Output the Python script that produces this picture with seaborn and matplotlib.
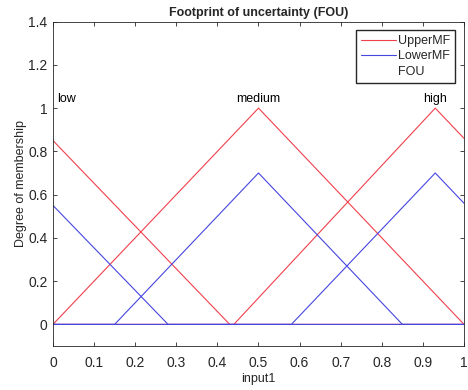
import numpy as np
import matplotlib
matplotlib.use("Agg")
import matplotlib.pyplot as plt
from matplotlib.lines import Line2D
from matplotlib.patches import Patch
import seaborn as sns

# Breakpoints of the upper membership functions
upper_low_x = [0, 0.43, 1]
upper_low_y = [0.85, 0, 0]
upper_med_x = [0, 0.5, 1]
upper_med_y = [0, 1, 0]
upper_high_x = [0, 0.44, 0.93, 1]
upper_high_y = [0, 0, 1, 0.86]

# Breakpoints of the lower membership functions
lower_low_x = [0, 0.28, 1]
lower_low_y = [0.55, 0, 0]
lower_med_x = [0, 0.15, 0.5, 0.85, 1]
lower_med_y = [0, 0, 0.7, 0, 0]
lower_high_x = [0, 0.58, 0.93, 1]
lower_high_y = [0, 0, 0.7, 0.56]

mf_names = ["low", "medium", "high"]
label_x = [0.01, 0.5, 0.93]

sns.set_style("ticks")
plt.rcParams['font.family'] = ['Liberation Sans', 'DejaVu Sans']

red = "#f0404c"
blue = "#4646e0"

fig = plt.figure(figsize=(4.68, 3.9), dpi=100)
ax = fig.add_axes([0.1132, 0.1128, 0.8783, 0.8318])

uppers = [(upper_low_x, upper_low_y), (upper_med_x, upper_med_y), (upper_high_x, upper_high_y)]
lowers = [(lower_low_x, lower_low_y), (lower_med_x, lower_med_y), (lower_high_x, lower_high_y)]

for xs, ys in uppers:
    sns.lineplot(x=xs, y=ys, color=red, lw=0.8, sort=False, estimator=None, ax=ax)
for xs, ys in lowers:
    sns.lineplot(x=xs, y=ys, color=blue, lw=0.8, sort=False, estimator=None, ax=ax)

for name, lx in zip(mf_names, label_x):
    ha = "left" if name == "low" else "center"
    ax.text(lx, 1.04, name, ha=ha, va="center", fontsize=9, color="black")

ax.set_xlim(0, 1)
ax.set_ylim(-0.1, 1.4)
ax.set_xticks(np.arange(0, 1.01, 0.1))
ax.set_xticklabels(["0", "0.1", "0.2", "0.3", "0.4", "0.5", "0.6", "0.7", "0.8", "0.9", "1"])
ax.set_yticks(np.arange(0, 1.41, 0.2))
ax.set_yticklabels(["0", "0.2", "0.4", "0.6", "0.8", "1", "1.2", "1.4"])
ax.tick_params(direction="in", top=True, right=True, length=3, width=0.6,
               labelsize=10, colors="#262626")
ax.tick_params(axis="x", pad=7)
ax.tick_params(axis="y", pad=4)
for sp in ax.spines.values():
    sp.set_color("#262626")
    sp.set_linewidth(0.6)

ax.set_title("Footprint of uncertainty (FOU)", fontsize=9, fontweight="bold", pad=4)
ax.set_xlabel("input1", fontsize=9, labelpad=2)
ax.set_ylabel("Degree of membership", fontsize=9, labelpad=0.5)

handles = [Line2D([], [], color=red, lw=0.8),
           Line2D([], [], color=blue, lw=0.8),
           Patch(facecolor="none", edgecolor="none")]
ax.legend(handles, ["UpperMF", "LowerMF", "FOU"], loc="upper right", fontsize=9,
          frameon=True, fancybox=False, edgecolor="#262626", framealpha=1,
          handlelength=2.8, handletextpad=0.2, labelspacing=0.25,
          borderaxespad=0.7, borderpad=0.4)

fig.savefig("out.png", dpi=100)
